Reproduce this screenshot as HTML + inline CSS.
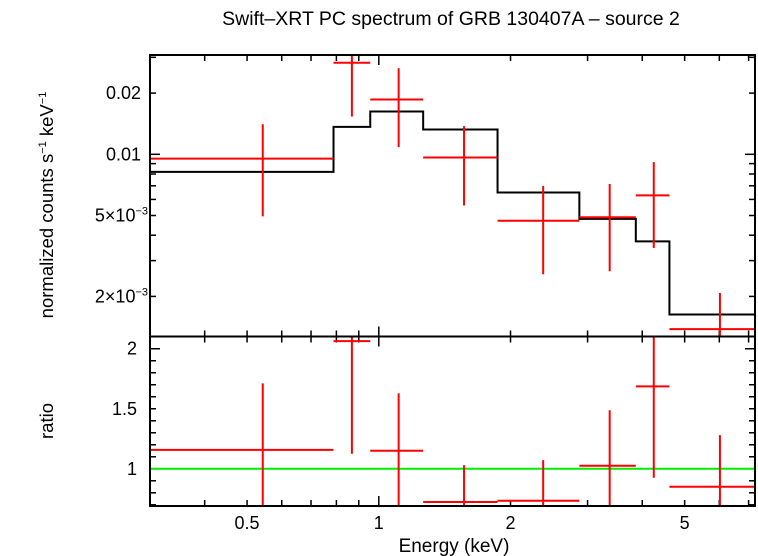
<!DOCTYPE html>
<html><head><meta charset="utf-8"><style>
html,body{margin:0;padding:0;background:#fff;}
svg{display:block;font-family:"Liberation Sans",sans-serif;}
</style></head><body>
<svg id="chart" width="758" height="556" viewBox="0 0 758 556" xmlns="http://www.w3.org/2000/svg">
<text x="451" y="25" font-size="19.5" text-anchor="middle">Swift–XRT PC spectrum of GRB 130407A – source 2</text>
<text transform="translate(53,205) rotate(-90)" font-size="18.5" text-anchor="middle">normalized counts s<tspan font-size="11" dy="-7">−1</tspan><tspan dy="7"> keV</tspan><tspan font-size="11" dy="-7">−1</tspan></text>
<text transform="translate(53,421) rotate(-90)" font-size="18.5" text-anchor="middle">ratio</text>
<text x="454" y="552" font-size="19" text-anchor="middle">Energy (keV)</text>
<g id="g"></g>
</svg>
<script>
const binLo = [0.3, 0.788, 0.956, 1.263, 1.868, 2.873, 3.867, 4.615];
const binHi = [0.788, 0.956, 1.263, 1.868, 2.873, 3.867, 4.615, 7.28];
const binCenter = [0.543, 0.868, 1.11, 1.566, 2.375, 3.37, 4.25, 6.02];
const dataVal = [0.00953, 0.0282, 0.0186, 0.00964, 0.00471, 0.0049, 0.00628, 0.00138];
const dataHi = [0.01406, 0.04, 0.0265, 0.01376, 0.00698, 0.00714, 0.00915, 0.00208];
const dataLo = [0.00495, 0.01534, 0.01085, 0.0056, 0.00257, 0.00266, 0.00346, 0.0009];
const modelVal = [0.0082, 0.01365, 0.01623, 0.01324, 0.00649, 0.00481, 0.00373, 0.00163];
const ratioVal = [1.158, 2.063, 1.15, 0.723, 0.734, 1.025, 1.687, 0.85];
const ratioHi = [1.712, 2.3, 1.629, 1.03, 1.072, 1.488, 2.2, 1.28];
const ratioLo = [0.6, 1.125, 0.6, 0.5, 0.5, 0.5, 0.925, 0.5];
const xTickLabels = ["0.5", "1", "2", "5"];
const xTickValues = [0.5, 1, 2, 5];
const topTickLabels = ["0.02", "0.01", "5×10", "2×10"];
const topTickValues = [0.02, 0.01, 0.005, 0.002];
const ratioTickLabels = ["2", "1.5", "1"];
const ratioTickValues = [2, 1.5, 1];

const L=150,R=755,T=55,M=336.5,B=506;
const xMin=0.3,xMax=7.24,yMin=0.00127,yMax=0.0308,rMin=0.69,rMax=2.102;
const X=e=>L+(Math.log10(e)-Math.log10(xMin))/(Math.log10(xMax)-Math.log10(xMin))*(R-L);
const Y=v=>M-(Math.log10(v)-Math.log10(yMin))/(Math.log10(yMax)-Math.log10(yMin))*(M-T);
const YR=v=>B-(v-rMin)/(rMax-rMin)*(B-M);
const NS="http://www.w3.org/2000/svg";
const g=document.getElementById('g');
function el(tag,attrs,parent){const e=document.createElementNS(NS,tag);for(const k in attrs)e.setAttribute(k,attrs[k]);(parent||g).appendChild(e);return e;}
function line(x1,y1,x2,y2,c,w,p){return el('line',{x1,y1,x2,y2,stroke:c,'stroke-width':w},p);}
const cl=el('clipPath',{id:'ct'});el('rect',{x:L,y:T,width:R-L,height:M-T},cl);
const cb=el('clipPath',{id:'cb'});el('rect',{x:L,y:M,width:R-L,height:B-M},cb);

const tk=el('g',{});


const xt=[0.4,0.5,0.6,0.7,0.8,0.9,1,2,3,4,5,6,7];
xt.forEach(v=>{const x=X(v),len=(v===1)?10:6;
 [[T,T+len],[M,M-len],[M,M+len],[B,B-len]].forEach(a=>line(x,a[0],x,a[1],'#000',1.5,tk));});
const yt=[0.002,0.003,0.004,0.005,0.006,0.007,0.008,0.009,0.01,0.02,0.03];
yt.forEach(v=>{const y=Y(v),len=(v===0.01)?10:6;line(L,y,L+len,y,'#000',1.5,tk);line(R,y,R-len,y,'#000',1.5,tk);});
for(let r=0.7;r<=2.101;r+=0.1){const y=YR(r),len=(Math.abs(r-1)<0.01||Math.abs(r-2)<0.01)?10:6;line(L,y,L+len,y,'#000',1.5,tk);line(R,y,R-len,y,'#000',1.5,tk);}

xTickValues.forEach((v,i)=>{const t=el('text',{x:X(v),y:529,'font-size':18,'text-anchor':'middle'});t.textContent=xTickLabels[i];

});
topTickValues.forEach((v,i)=>{const t=el('text',{x:141,y:Y(v)+6,'font-size':18,'text-anchor':'end'});
 if(i>=2){t.setAttribute('x',148);t.textContent=topTickLabels[i];const s=el('tspan',{'font-size':11,dy:-7},t);s.textContent='−3';}
 else t.textContent=topTickLabels[i];

});
ratioTickValues.forEach((v,i)=>{const t=el('text',{x:137,y:YR(v)+6,'font-size':18,'text-anchor':'end'});t.textContent=ratioTickLabels[i];

});

let d='';binLo.forEach((lo,i)=>{const y=Y(modelVal[i]);d+=(i?'L':'M')+X(lo)+' '+y+' L'+X(binHi[i])+' '+y+' ';});
const mp=el('path',{d,fill:'none',stroke:'#000','stroke-width':2,'clip-path':'url(#ct)'});



const gl=line(L,YR(1),R,YR(1),'#00ee00',2);



binLo.forEach((lo,i)=>{
 const a=el('g',{'clip-path':'url(#ct)'});
 
 
 line(X(lo),Y(dataVal[i]),X(binHi[i]),Y(dataVal[i]),'#ff0000',2,a);
 line(X(binCenter[i]),Y(dataHi[i]),X(binCenter[i]),Y(dataLo[i]),'#ff0000',2,a);
 const b=el('g',{'clip-path':'url(#cb)'});
 
 
 line(X(lo),YR(ratioVal[i]),X(binHi[i]),YR(ratioVal[i]),'#ff0000',2,b);
 line(X(binCenter[i]),YR(ratioHi[i]),X(binCenter[i]),YR(ratioLo[i]),'#ff0000',2,b);
});

const f1=el('rect',{x:L,y:T,width:R-L,height:M-T,fill:'none',stroke:'#000','stroke-width':2});


const f2=el('rect',{x:L,y:M,width:R-L,height:B-M,fill:'none',stroke:'#000','stroke-width':2});


</script>
</body></html>
